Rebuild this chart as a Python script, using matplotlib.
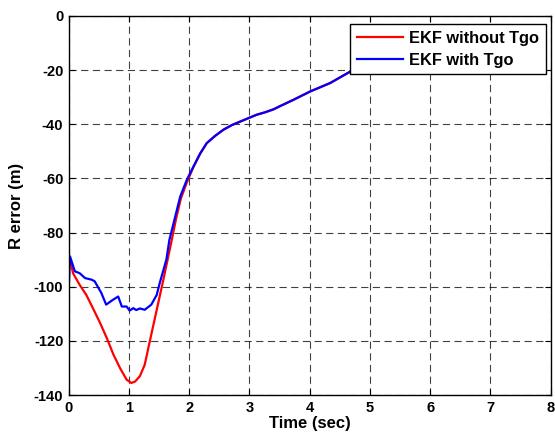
import matplotlib
matplotlib.use("Agg")
import matplotlib.pyplot as plt

plt.rcParams['font.family'] = ['Liberation Sans', 'DejaVu Sans']
plt.rcParams['font.weight'] = 'bold'
plt.rcParams['axes.unicode_minus'] = False

# Red: EKF without Tgo
t_red = [0.0, 0.02, 0.07, 0.18, 0.29, 0.40, 0.52, 0.63, 0.74, 0.85, 0.96, 1.04, 1.10, 1.18,
         1.26, 1.35, 1.46, 1.57, 1.65, 1.71, 1.78, 1.86, 1.96, 2.07, 2.18, 2.29, 2.43,
         2.57, 2.71, 2.85, 3.0, 3.12, 3.26, 3.40, 3.51, 3.73, 4.01, 4.34, 4.68, 5.0]
v_red = [-92, -90, -95, -99.3, -103, -107.9, -113.4, -118.9, -125, -130, -134.3, -135.5, -135, -133,
         -128.8, -119.6, -108.5, -97.4, -89, -82.7, -75, -67.5, -61.5, -55.8, -51, -47, -44.3,
         -42, -40.3, -39, -37.6, -36.5, -35.6, -34.5, -33.3, -31, -27.9, -24.8, -20.5, -17.5]

# Blue: EKF with Tgo
t_blue = [0.0, 0.0, 0.02, 0.1, 0.18, 0.27, 0.38, 0.43, 0.54, 0.62, 0.72, 0.82, 0.88, 0.96,
          1.01, 1.07, 1.12, 1.18, 1.26, 1.37, 1.46, 1.51, 1.62, 1.67, 1.74, 1.85, 1.96,
          2.07, 2.18, 2.29, 2.43, 2.57, 2.71, 2.85, 3.0, 3.12, 3.26, 3.40, 3.51, 3.73,
          4.01, 4.34, 4.68, 5.0]
v_blue = [-100, -100, -88.8, -94.3, -95, -96.8, -97.4, -98, -102.3, -106.6, -105, -103.6, -107.3, -107.3,
          -108.8, -107.9, -108.6, -108, -108.5, -106.6, -103, -98.6, -90, -82.7, -76.5, -66.7, -60.5,
          -55.6, -50.8, -47, -44.3, -42, -40.3, -39, -37.6, -36.5, -35.6, -34.5, -33.3, -31,
          -27.9, -24.8, -20.5, -17.5]

x_ticks = [0, 1, 2, 3, 4, 5, 6, 7, 8]
y_ticks = [-140, -120, -100, -80, -60, -40, -20, 0]

fig = plt.figure(figsize=(5.55, 4.4), dpi=100)
ax = fig.add_axes([0.124, 0.102, 0.868, 0.862])

ax.plot(t_red, v_red, color='#ff0000', lw=1.6, label='EKF without Tgo')
ax.plot(t_blue, v_blue, color='#0000ff', lw=1.6, label='EKF with Tgo')

ax.set_xlim(0, 8)
ax.set_ylim(-140, 0)
ax.set_xticks(x_ticks)
ax.set_yticks(y_ticks)
ax.tick_params(direction='in', top=True, right=True, length=4, width=0.8,
               labelsize=10.5, pad=4)
for lab in ax.get_xticklabels() + ax.get_yticklabels():
    lab.set_fontweight('bold')
ax.grid(True, color='black', linestyle=(0, (6.5, 4)), linewidth=0.8, alpha=0.75)
for s in ax.spines.values():
    s.set_linewidth(1.0)

ax.set_xlabel('Time (sec)', fontsize=12, fontweight='bold', labelpad=1)
ax.set_ylabel('R error (m)', fontsize=12, fontweight='bold', labelpad=7)

leg = ax.legend(loc='upper right', bbox_to_anchor=(0.991, 0.979), borderaxespad=0,
                fancybox=False, framealpha=1, edgecolor='black', handlelength=2.8,
                prop={'size': 11.8, 'weight': 'bold'}, borderpad=0.42, labelspacing=0.42,
                handletextpad=0.4)
leg.get_frame().set_linewidth(1.0)

fig.savefig('out.png', dpi=100)
